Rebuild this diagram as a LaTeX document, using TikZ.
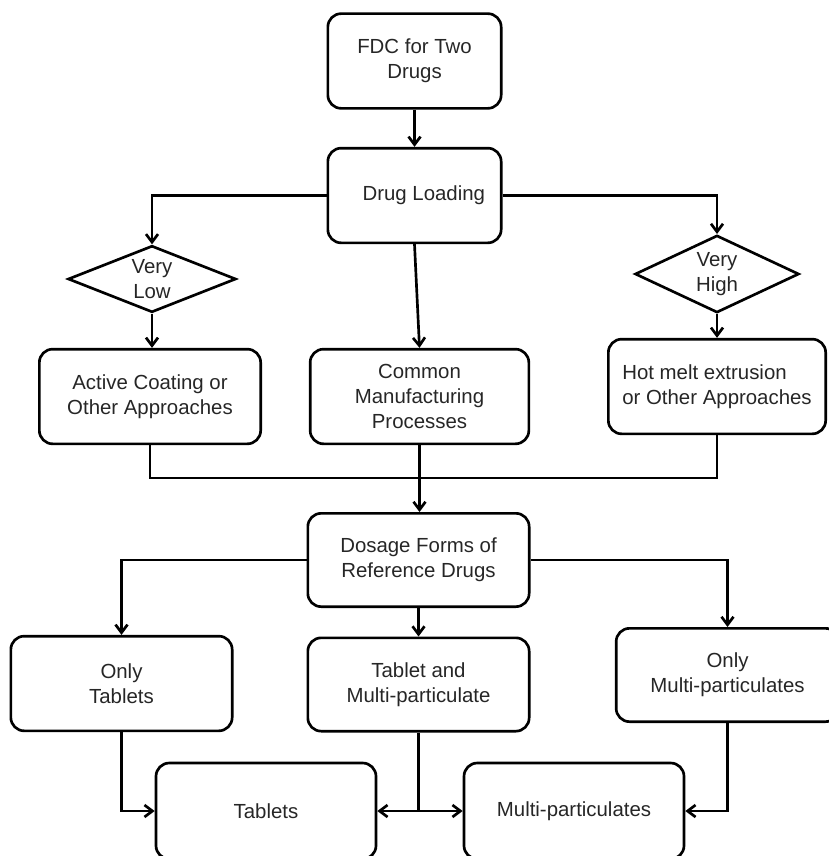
\documentclass[tikz,border=0pt]{standalone}
\usepackage{fontspec}
\setmainfont{Liberation Sans}
\usetikzlibrary{shapes.geometric,arrows.meta}

\begin{document}
\begin{tikzpicture}[x=0.75pt,y=-0.75pt, line width=2pt,
  >={Straight Barb[length=6pt,width=9pt]},
  every node/.style={font=\fontsize{15.3}{18.8}\selectfont, text=black!85},
  box/.style={draw, rounded corners=10pt, align=center, inner sep=2pt,
    minimum width=166pt, minimum height=71pt},
  choice/.style={draw, diamond, aspect=2.5, align=center, inner sep=0pt}]

\useasboundingbox (0,0) rectangle (828,856);

 \node (fdc) at (414.5, 61) [box, minimum width=130pt] {FDC for Two\\Drugs};
 \node (load) at (414.5, 195.5) [box, minimum width=130pt] {\hspace{14pt}Drug Loading};

 \node (verylow) at (152, 279) [choice, minimum width=126pt, minimum height=50pt] {Very\\Low};
 \node (veryhigh) at (717, 274) [choice, minimum width=123pt, minimum height=58pt] {Very\\High};

 \node (active) at (150, 396.5) [box] {Active Coating or\\Other Approaches};
 \node (common) at (419.5, 396.5) [box, minimum width=164pt] {Common\\Manufacturing\\Processes};
 \node (hotmelt) at (717, 386.5) [box, minimum width=163pt, align=left] {Hot melt extrusion\\or Other Approaches};

 \node (dose) at (418.5, 560) [box, minimum height=70pt] {Dosage Forms of\\Reference Drugs};

 \node (onlytab) at (121.5, 683.5) [box] {Only\\Tablets};
 \node (tabmulti) at (418.5, 684.5) [box, minimum height=70pt] {Tablet and\\Multi-particulate};
 \node (onlymulti) at (727.5, 675) [box, minimum width=167pt, minimum height=70pt] {Only\\Multi-particulates};

 \node (tablets) at (266, 811) [box, minimum width=165pt, minimum height=72pt] {Tablets};
 \node (multi) at (574, 811) [box, minimum width=165pt, minimum height=72pt] {Multi-particulates};


 % loading branches
 \draw [->] (fdc.south) -- (load.north);
 \draw [->] (load.west) -| (verylow.north);
 \draw [->] (load.east) -| (veryhigh.north);
 \draw [->] (load.south) -- (common.north);
 \draw [->] (verylow.south) -- (verylow.south |- active.north);
 \draw [->] (veryhigh.south) -- (hotmelt.north);

 % join to dosage forms
 \coordinate (join) at (419.5, 478);
 \draw (active.south) |- (join) -| (hotmelt.south);
 \draw [->] (common.south) -- (common.south |- dose.north);

 % dosage form branches
 \draw [->] (dose.west) -| (onlytab.north);
 \draw [->] (dose.south) -- (tabmulti.north);
 \draw [->] (dose.east) -| (onlymulti.north);

 \draw [->] (onlytab.south) |- (tablets.west);
 \draw [->] (onlymulti.south) |- (multi.east);

 \coordinate (split) at (tabmulti.south |- tablets.east);
 \draw (tabmulti.south) -- (split);
 \draw [->] (split) -- (tablets.east);
 \draw [->] (split) -- (multi.west);

\end{tikzpicture}
\end{document}
